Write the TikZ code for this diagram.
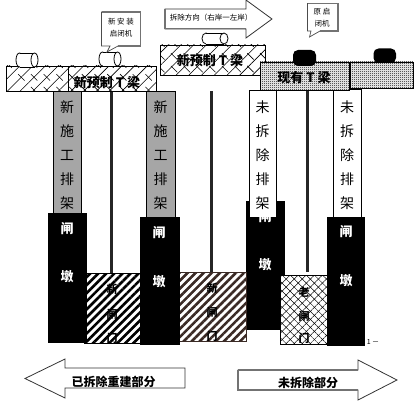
\documentclass[tikz,border=0pt]{standalone}
\usepackage{fontspec}
\setmainfont{Noto Sans CJK SC}
\usetikzlibrary{patterns.meta,arrows.meta}
\pgfdeclarepatternformonly{finedots}{\pgfqpoint{0pt}{0pt}}{\pgfqpoint{2pt}{2pt}}{\pgfqpoint{2pt}{2pt}}{%
  \pgfpathrectangle{\pgfqpoint{0pt}{0pt}}{\pgfqpoint{1pt}{1pt}}%
  \pgfpathrectangle{\pgfqpoint{1pt}{1pt}}{\pgfqpoint{1pt}{1pt}}%
  \pgfusepath{fill}}
\definecolor{gatebrown}{HTML}{3A2A25}
\definecolor{colgrey}{HTML}{A6A6A6}
\tikzset{
  box/.style={draw=black,line width=.8pt},
  hatchbeam/.style={box,fill=white,postaction={pattern={Lines[angle=45,distance=9pt,line width=.6pt]}}},
  dotbeam/.style={box,fill=white,postaction={pattern=finedots}},
  greycol/.style={box,fill=colgrey},
  whitecol/.style={box,fill=white},
  pier/.style={fill=black},
  gateA/.style={box,postaction={pattern={Lines[angle=45,distance=5.7pt,line width=2.6pt]}}},
  gateB/.style={draw=gatebrown,line width=.8pt,postaction={pattern={Lines[angle=45,distance=5.7pt,line width=2.6pt]},pattern color=gatebrown}},
  gateC/.style={box,fill=white,postaction={pattern={Lines[angle=45,distance=5.7pt,line width=.5pt]}},postaction={pattern={Lines[angle=-45,distance=5.7pt,line width=.5pt]}}},
  pole/.style={line width=3pt,draw=black!85},
  calloutbox/.style={fill=white,draw=black!70,line width=.7pt},
  shadowline/.style={draw=black!55,line width=1.3pt},
  arrowshape/.style={fill=white,draw=black!80,line width=.8pt},
  vert/.style={align=center,font=\fontsize{14}{24}\selectfont,inner sep=0pt},
  beamlabel/.style={font=\bfseries\fontsize{13}{13}\selectfont,inner sep=0pt},
  piertext/.style={align=center,text=white,font=\bfseries\fontsize{13}{13}\selectfont,inner sep=0pt},
  gatetext/.style={align=center,font=\bfseries\fontsize{11}{11}\selectfont,inner sep=0pt},
  smalltext/.style={align=center,font=\fontsize{7.5}{12}\selectfont,inner sep=0pt},
  arrowtext/.style={font=\bfseries\fontsize{12}{12}\selectfont,inner sep=0pt},
  cyl/.style={fill=white,draw=black,line width=.8pt},
  blackroll/.style={fill=black,rounded corners=5pt}
}
\newcommand{\hatchcross}[4]{% x0,y0,x1,y1 : short cross strokes
  \begin{scope}
    \clip (#1,#2) rectangle (#3,#4);
    \foreach \k in {-20,-7.27,...,460}{
      \draw[line width=.6pt,dash pattern=on 9pt off 9pt] (\k,#2-30) -- +(110,110);
    }
  \end{scope}}
\newcommand{\roller}[5]{% x, y top, width, x radius, y radius
  \draw[cyl] (#1+#4,#2+#5) ellipse[x radius=#4pt,y radius=#5pt];
  \fill[white] (#1+#4,#2) rectangle (#1+#3-#4,#2+2*#5);
  \draw[line width=.8pt] (#1+#4,#2) -- (#1+#3-#4,#2);
  \draw[line width=.8pt] (#1+#4,#2+2*#5) -- (#1+#3-#4,#2+2*#5);
  \draw[cyl] (#1+#3-#4,#2+#5) ellipse[x radius=#4pt,y radius=#5pt];
}
\begin{document}
\begin{tikzpicture}[x=1pt,y=-1pt]
\useasboundingbox (0,0) rectangle (420,404);
% poles
\draw[pole] (111,91) -- (111,273);
\draw[pole] (211,91) -- (211,272);
\draw[pole] (307,90) -- (307,272);
% piers 1, 3
\fill[pier] (48,213) rectangle (87,343);
\fill[pier] (246,201) rectangle (285,330);
% gates
\draw[gateA] (84,273) rectangle (141,343);
\draw[gateB] (179,272) rectangle (246,341);
\draw[gateC] (280,275) rectangle (328,344);
% piers 2, 4
\fill[pier] (140,217) rectangle (180,345);
\fill[pier] (327,217) rectangle (365,346);
% columns
\draw[greycol] (53,91) rectangle (81,213);
\draw[greycol] (146,91) rectangle (175,217);
\draw[whitecol] (249,90) rectangle (276.5,217);
\draw[whitecol] (333,89) rectangle (361,217);
% beams
\draw[hatchbeam] (6,66) rectangle (156,91);
\hatchcross{6}{66}{156}{91}
\draw[line width=.8pt] (68,66) -- (68,91);
\draw[hatchbeam] (160,45) rectangle (265.5,75);
\hatchcross{160}{45}{265.5}{75}
\draw[dotbeam] (260,62) rectangle (349,90);
\draw[dotbeam] (350,62) rectangle (413,88);
% rollers
\roller{16}{53}{22}{3.5}{7}
\roller{99}{52}{22}{3.5}{7}
\roller{202}{33}{26}{4}{5.5}
\fill[blackroll] (293,50) rectangle (316,66);
\fill[blackroll] (373.5,48.5) rectangle (396,63);
% callouts
\draw[calloutbox] (101.5,12) -- (140.5,12) -- (140.5,46) -- (118,46) -- (107,52) -- (110,46) -- (101.5,46) -- cycle;
\draw[shadowline] (102,12) -- (140.5,12) -- (140.5,46) -- (118,46);
\draw[calloutbox] (307.5,3.5) -- (338,3.5) -- (338,31) -- (320,31) -- (309.5,37) -- (311,31) -- (307.5,31) -- cycle;
\draw[shadowline] (308,3.5) -- (338,3.5) -- (338,31) -- (320,31);
% arrows
\draw[arrowshape] (165,9) -- (246,9) -- (246,0) -- (272,19) -- (246,38) -- (246,29) -- (165,29) -- cycle;
\draw[shadowline] (165,9.5) -- (165,28.5) -- (245.5,28.5);
\draw[arrowshape] (185,368) -- (65,368) -- (65,359) -- (25,378.5) -- (65,398) -- (65,388) -- (185,388) -- cycle;
\draw[arrowshape] (238,370) -- (358,370) -- (358,360) -- (397,380) -- (358,400) -- (358,390) -- (238,390) -- cycle;
\draw[shadowline] (238,370) -- (358,370);
\draw[shadowline] (238,370) -- (238,390) -- (358,390);
% column text
\node[vert] (c1) at (67,155) {新\\施\\工\\排\\架};
\node[vert] (c2) at (160.5,155) {新\\施\\工\\排\\架};
\node[vert] (c3) at (262.5,155) {未\\拆\\除\\排\\架};
\node[vert] (c4) at (347,155) {未\\拆\\除\\排\\架};
% piers text
\node[piertext] (p1a) at (67,229) {闸};
\node[piertext] (p1b) at (67,277) {墩};
\node[piertext] (p2a) at (159,233) {闸};
\node[piertext] (p2b) at (159,282) {墩};
\node[piertext] (p3b) at (265,265) {墩};
\node[piertext] (p4a) at (346,232) {闸};
\node[piertext] (p4b) at (346,281) {墩};
\begin{scope}
\clip (246,217) rectangle (285,223);
\node[piertext] (p3a) at (265,217) {闸};
\end{scope}
% gate text
\node[gatetext] (g1a) at (112,289) {新};
\node[gatetext] (g1b) at (112,314) {闸};
\node[gatetext] (g1c) at (112,338) {门};
\node[gatetext] (g2a) at (212,288) {新};
\node[gatetext] (g2b) at (212,312) {闸};
\node[gatetext] (g2c) at (212,336) {门};
\node[gatetext] (g3a) at (304,292) {老};
\node[gatetext] (g3b) at (304,316) {闸};
\node[gatetext] (g3c) at (304,338) {门};
% beam labels
\node[beamlabel] (b1) at (107,82.5) {新预制 T 梁};
\node[beamlabel] (b2) at (210,61) {新预制 T 梁};
\node[beamlabel] (b3) at (304,78) {现有 T 梁};
% small labels
\node[smalltext] (s1) at (121,27.5) {新 安 装\\启闭机};
\node[smalltext] (s2) at (322,18) {原 启\\闭机};
\node[inner sep=0pt,font=\fontsize{7.5}{8}\selectfont] (s3) at (211,18) {拆除方向（右岸一左岸）};
\node[arrowtext] (a1) at (113.5,382) {已拆除重建部分};
\node[arrowtext] (a2) at (308,383) {未拆除部分};
\node[inner sep=0pt,font=\fontsize{7}{8}\selectfont] (n1) at (373,342.5) {1 －};
\end{tikzpicture}
\end{document}
